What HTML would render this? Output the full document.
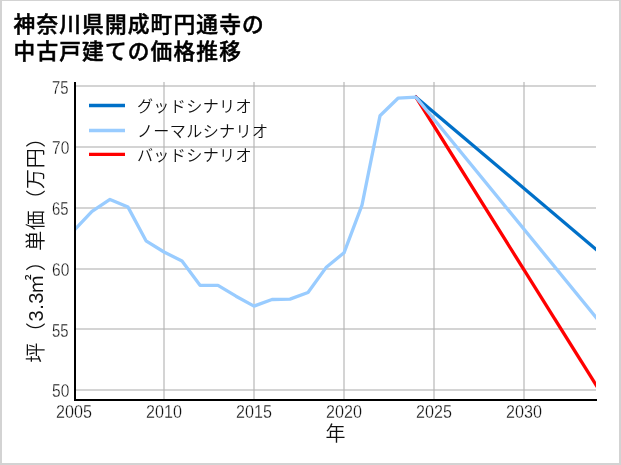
<!DOCTYPE html>
<html lang="ja">
<head>
<meta charset="utf-8">
<title>神奈川県開成町円通寺の中古戸建ての価格推移</title>
<style>
html,body{margin:0;padding:0;background:#fff;}
body{width:621px;height:465px;overflow:hidden;position:relative;font-family:"Liberation Sans","Noto Sans CJK JP",sans-serif;}
#frame{position:absolute;left:0;top:0;width:617px;height:462px;border-style:solid;border-color:#d3d3d3;border-width:1px 2px 2px 2px;}
svg{position:absolute;left:0;top:0;}
.title{font-family:"Liberation Sans","Noto Sans CJK JP",sans-serif;font-weight:500;font-size:21.7px;letter-spacing:1.15px;fill:#000;stroke:#000;stroke-width:0.5px;}
.tick{font-family:"Liberation Sans","Noto Sans CJK JP",sans-serif;font-size:18px;fill:#111;font-weight:400;stroke:#fff;stroke-width:0.28px;}
.lab{font-family:"Liberation Sans","Noto Sans CJK JP",sans-serif;font-size:20px;fill:#111;font-weight:350;}
.ylab{letter-spacing:0.6px;}
.leg{font-family:"Liberation Sans","Noto Sans CJK JP",sans-serif;font-size:16.1px;letter-spacing:0.35px;fill:#111;font-weight:350;}
</style>
</head>
<body>
<div id="frame"></div>
<svg width="621" height="465" viewBox="0 0 621 465">
<defs><clipPath id="plot"><rect x="74" y="82" width="522" height="318"/></clipPath></defs>
<g class="title">
<text x="13.6" y="31.8">神奈川県開成町円通寺の</text>
<text x="13.6" y="58.7">中古戸建ての価格推移</text>
</g>
<g fill="#b0b0b0" fill-opacity="0.55"><rect x="75" y="85" width="521" height="2"/><rect x="75" y="146" width="521" height="2"/><rect x="75" y="207" width="521" height="2"/><rect x="75" y="268" width="521" height="2"/><rect x="75" y="328" width="521" height="2"/><rect x="75" y="389" width="521" height="2"/><rect x="163" y="82" width="2" height="317"/><rect x="253" y="82" width="2" height="317"/><rect x="343" y="82" width="2" height="317"/><rect x="433" y="82" width="2" height="317"/><rect x="523" y="82" width="2" height="317"/></g>
<g clip-path="url(#plot)" fill="none" stroke-width="3.3" stroke-linejoin="round" stroke-linecap="square">
<polyline stroke="#0070c8" points="416.0,97.2 614.0,264.5"/>
<polyline stroke="#ff0000" points="416.0,97.2 614.0,413.7"/>
<polyline stroke="#99ccff" points="74.0,230.4 92.0,211.3 110.0,199.4 128.0,207.1 146.0,240.8 164.0,252.0 182.0,261.0 200.0,285.3 218.0,285.3 236.0,296.2 254.0,306.1 272.0,299.5 290.0,299.1 308.0,292.5 326.0,267.6 344.0,252.8 362.0,205.2 380.0,115.8 398.0,98.2 416.0,97.2 614.0,339.3"/>
</g>
<rect x="74" y="82" width="2" height="319" fill="#000"/>
<rect x="74" y="399" width="523" height="2" fill="#000"/>
<g class="tick"><text x="68.6" y="94.3" text-anchor="end" textLength="16.5" lengthAdjust="spacingAndGlyphs">75</text><text x="69.3" y="153.5" text-anchor="end" textLength="17.3" lengthAdjust="spacingAndGlyphs">70</text><text x="68.6" y="214.5" text-anchor="end" textLength="16.5" lengthAdjust="spacingAndGlyphs">65</text><text x="69.3" y="275.5" text-anchor="end" textLength="17.3" lengthAdjust="spacingAndGlyphs">60</text><text x="68.6" y="336.6" text-anchor="end" textLength="16.5" lengthAdjust="spacingAndGlyphs">55</text><text x="69.3" y="396.5" text-anchor="end" textLength="17.3" lengthAdjust="spacingAndGlyphs">50</text><text x="74" y="417.8" text-anchor="middle" textLength="35.9" lengthAdjust="spacingAndGlyphs">2005</text><text x="164" y="417.8" text-anchor="middle" textLength="35.9" lengthAdjust="spacingAndGlyphs">2010</text><text x="254" y="417.8" text-anchor="middle" textLength="35.9" lengthAdjust="spacingAndGlyphs">2015</text><text x="344" y="417.8" text-anchor="middle" textLength="35.9" lengthAdjust="spacingAndGlyphs">2020</text><text x="434" y="417.8" text-anchor="middle" textLength="35.9" lengthAdjust="spacingAndGlyphs">2025</text><text x="524" y="417.8" text-anchor="middle" textLength="35.9" lengthAdjust="spacingAndGlyphs">2030</text></g>
<g stroke-width="3.3" fill="none">
<line x1="89" x2="125" y1="105.5" y2="105.5" stroke="#0070c8"/>
<line x1="89" x2="125" y1="130.5" y2="130.5" stroke="#99ccff"/>
<line x1="89" x2="125" y1="154.4" y2="154.4" stroke="#ff0000"/>
</g>
<g class="leg">
<text x="136.9" y="111.6">グッドシナリオ</text>
<text x="136.9" y="136.6">ノーマルシナリオ</text>
<text x="136.9" y="160.5">バッドシナリオ</text>
</g>
<text class="lab" x="335.5" y="440.5" text-anchor="middle">年</text>
<text class="lab ylab" transform="translate(43.2,362.8) rotate(-90)" x="0" y="0" dx="0 0 0 0 0 -2.3 2.3">坪（3.3㎡）単価（万円）</text>
</svg>
</body>
</html>
